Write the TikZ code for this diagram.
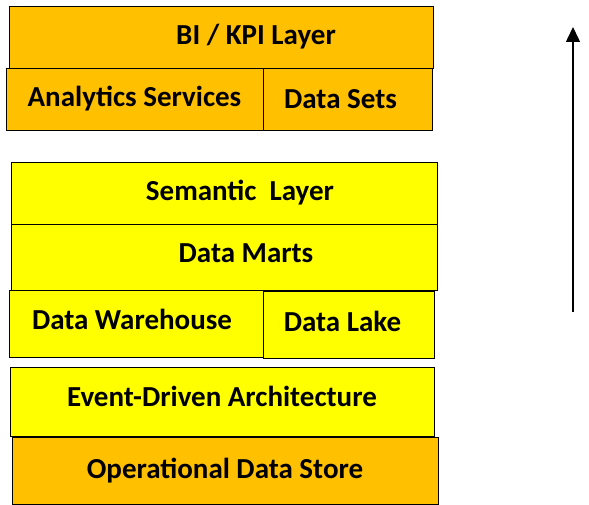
\documentclass[tikz,border=0pt]{standalone}
\usepackage{fontspec}
\setmainfont{Carlito}
\usepackage{tikz}
\usetikzlibrary{positioning,arrows.meta}

\definecolor{layerorange}{HTML}{FFC000}
\definecolor{layeryellow}{HTML}{FFFF00}

\begin{document}
\begin{tikzpicture}
            [x=1pt,y=-1pt,every node/.style={draw, rectangle, inner sep = 0pt, font=\bfseries\fontsize{29}{34}\selectfont}]
          \useasboundingbox (0,0) rectangle (589,505);
          \tikzset{orangebox/.style={fill=layerorange}, yellowbox/.style={fill=layeryellow}}

          % top group
          \node[orangebox, minimum width=424pt, minimum height=62pt] (bi) at (221,37) {\hspace*{70pt}BI / KPI Layer};
          \node[orangebox, minimum width=257pt, minimum height=62pt] (as) at (134.5,99) {\raisebox{-2pt}{Analytics Services}};
          \node[orangebox, minimum width=169pt, minimum height=62pt] (ds) at (347.5,99) {\hspace*{-14pt}Data Sets};

          % middle group
          \node[yellowbox, minimum width=426pt, minimum height=62pt] (sem) at (224,193) {\hspace*{32pt}Semantic\ \ Layer};
          \node[yellowbox, minimum width=426pt, minimum height=66pt] (dm) at (224,257) {\hspace*{44pt}\raisebox{8pt}{Data Marts}};
          \node[yellowbox, minimum width=254pt, minimum height=67pt] (dw) at (136,323.5) {\hspace*{-8pt}\raisebox{8pt}{Data Warehouse}};
          \node[yellowbox, minimum width=171pt, minimum height=67pt] (dl) at (348.5,324.5) {\hspace*{-12pt}\raisebox{6pt}{Data Lake}};

          % bottom group
          \node[yellowbox, minimum width=424pt, minimum height=69pt] (eda) at (222,401.5) {\raisebox{10pt}{Event-Driven Architecture}};
          \node[orangebox, minimum width=426pt, minimum height=67pt] (ods) at (225,470.5) {\raisebox{4pt}{Operational Data Store}};

          \coordinate (up0) at (573,312);
          \coordinate (up1) at (573,27);
          \draw[line width=1.5pt, -{Triangle[width=14pt,length=15pt]}] (up0) -- (up1);
        \end{tikzpicture}
\end{document}
